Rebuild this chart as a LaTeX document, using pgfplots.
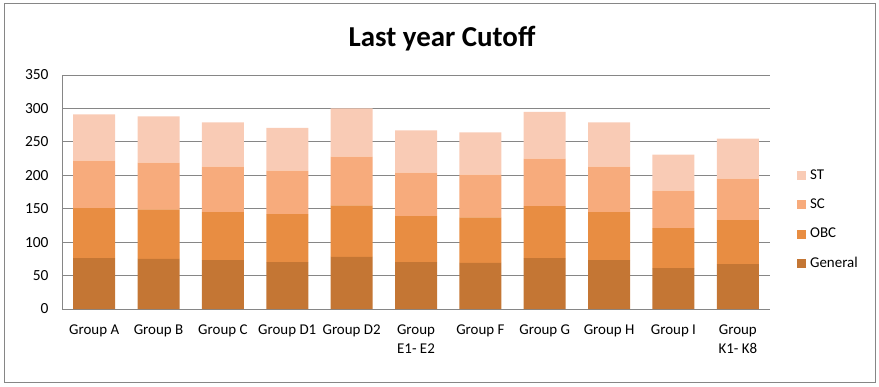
\documentclass[border=0pt]{standalone}
\usepackage{fontspec}
\setmainfont{Carlito}
\usepackage{pgfplots}
\pgfplotsset{compat=1.18}
\definecolor{cGen}{RGB}{196,118,52}
\definecolor{cOBC}{RGB}{232,141,66}
\definecolor{cSC}{RGB}{247,171,124}
\definecolor{cST}{RGB}{249,203,181}
\definecolor{gridc}{RGB}{134,134,134}
\begin{document}
\begin{tikzpicture}[x=1bp,y=1bp]
\path[use as bounding box] (0,0) rectangle (879,386);
\draw[gridc, line width=1bp] (4,3.5) rectangle (875.5,382.5);
\node[font=\bfseries\fontsize{29}{33}\selectfont] at (442,347) {Last year Cutoff};
\begin{axis}[
  at={(62bp,77bp)}, anchor=south west,
  width=708bp, height=234bp, scale only axis,
  ybar stacked, bar width=42bp,
  xmin=-0.5, xmax=10.5, ymin=0, ymax=350,
  ytick={0,50,...,350},
  xtick={0,...,10},
  xticklabels={Group A,Group B,Group C,Group D1,Group D2,{Group\\E1- E2},Group F,Group G,Group H,Group I,{Group\\K1- K8}},
  ymajorgrids, grid style={gridc, line width=1bp},
  axis x line*=bottom, axis y line*=left,
  axis line style={gridc, line width=1bp, -},
  major tick length=0pt,
  tick label style={font=\fontsize{15}{19.5}\selectfont, text=black},
  yticklabel style={font=\fontsize{15.5}{19.5}\selectfont},
  /pgf/number format/assume math mode=true,
  xticklabel style={align=center, anchor=north, yshift=-12bp},
  yticklabel style={anchor=east, xshift=-10bp},
  legend style={draw=none, fill=none, at={(1.038,0.382)}, anchor=west,
    font=\fontsize{15}{18}\selectfont, inner sep=0pt,
    nodes={inner sep=0pt, text height=11bp, text depth=4bp, anchor=west},
    row sep=14.3bp},
  legend cell align=left,
  /tikz/every even column/.append style={column sep=4bp},
  legend image code/.code={\path[#1,draw=none] (0bp,-4.5bp) rectangle (9bp,4.5bp); \path (13bp,0) ;},
  reverse legend,
]
\addplot[fill=cGen, draw=none] coordinates {(0,76) (1,75) (2,73) (3,70) (4,78) (5,70) (6,69) (7,76) (8,73) (9,61) (10,67)};
\addplot[fill=cOBC, draw=none] coordinates {(0,75) (1,74) (2,72) (3,72) (4,77) (5,69) (6,68) (7,78) (8,72) (9,60) (10,66)};
\addplot[fill=cSC, draw=none] coordinates {(0,71) (1,70) (2,68) (3,65) (4,73) (5,65) (6,64) (7,71) (8,68) (9,56) (10,62)};
\addplot[fill=cST, draw=none] coordinates {(0,69) (1,69) (2,66) (3,64) (4,72) (5,63) (6,63) (7,70) (8,66) (9,54) (10,60)};
\legend{General,OBC,SC,ST}
\end{axis}
\end{tikzpicture}
\end{document}
